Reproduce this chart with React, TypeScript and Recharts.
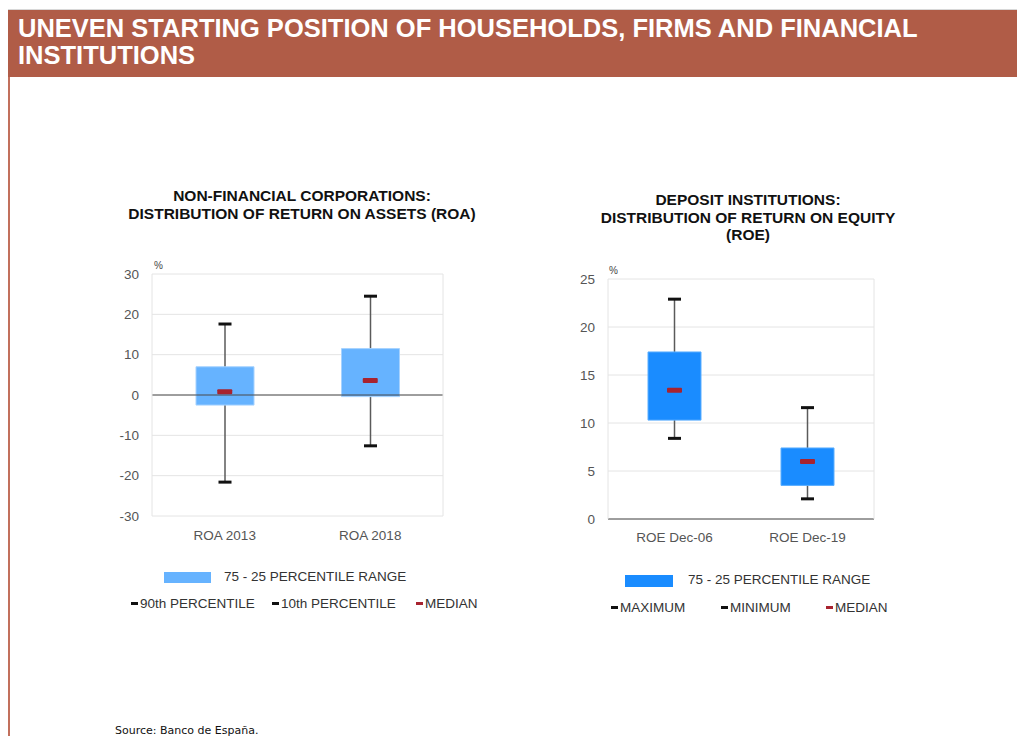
import React from "react";
import {
  Bar,
  ComposedChart,
  CartesianGrid,
  ReferenceLine,
  Scatter,
  XAxis,
  YAxis,
} from "recharts";

// Non-financial corporations, ROA distribution (%)
const ROA_CATEGORIES = ["ROA 2013", "ROA 2018"];
const ROA_P10 = [-21.6, -12.6];
const ROA_P25 = [-2.5, -0.4];
const ROA_MEDIAN = [0.8, 3.6];
const ROA_P75 = [7.0, 11.5];
const ROA_P90 = [17.6, 24.5];
const ROA_TICKS = [-30, -20, -10, 0, 10, 20, 30];

// Deposit institutions, ROE distribution (%)
const ROE_CATEGORIES = ["ROE Dec-06", "ROE Dec-19"];
const ROE_MIN = [8.4, 2.1];
const ROE_P25 = [10.3, 3.5];
const ROE_MEDIAN = [13.4, 6.0];
const ROE_P75 = [17.4, 7.4];
const ROE_MAX = [22.9, 11.6];
const ROE_TICKS = [0, 5, 10, 15, 20, 25];

const SANS = "'Liberation Sans', Arial, Helvetica, sans-serif";
const GRID = "#e4e4e4";
const MEDIAN_RED = "#a8232f";

interface BoxRow {
  name: string;
  low: number;
  q1: number;
  median: number;
  q3: number;
  high: number;
}

function buildRows(
  names: string[],
  low: number[],
  q1: number[],
  median: number[],
  q3: number[],
  high: number[]
): BoxRow[] {
  return names.map((name, i) => ({
    name,
    low: low[i],
    q1: q1[i],
    median: median[i],
    q3: q3[i],
    high: high[i],
  }));
}

const roaRows = buildRows(ROA_CATEGORIES, ROA_P10, ROA_P25, ROA_MEDIAN, ROA_P75, ROA_P90);
const roeRows = buildRows(ROE_CATEGORIES, ROE_MIN, ROE_P25, ROE_MEDIAN, ROE_P75, ROE_MAX);

// vertical whisker with black caps at both ends
const Whisker = (props: any) => {
  const { x, y, width, height } = props;
  const cx = x + width / 2;
  const top = Math.min(y, y + height);
  const bottom = Math.max(y, y + height);
  return (
    <g>
      <line x1={cx} x2={cx} y1={top} y2={bottom} stroke="#5a5a5a" strokeWidth={1.5} />
      <line x1={cx - 6.5} x2={cx + 6.5} y1={top} y2={top} stroke="#111" strokeWidth={3} />
      <line x1={cx - 6.5} x2={cx + 6.5} y1={bottom} y2={bottom} stroke="#111" strokeWidth={3} />
    </g>
  );
};

const MedianMark = (props: any) => {
  const { cx, cy } = props;
  return <rect x={cx - 7.5} y={cy - 2.5} width={15} height={5} rx={1} fill={MEDIAN_RED} />;
};

interface BoxPlotProps {
  rows: BoxRow[];
  ticks: number[];
  width: number;
  height: number;
  margin: { top: number; right: number; bottom: number; left: number };
  yWidth: number;
  barSize: number;
  boxColor: string;
  boxStroke: string;
  xTickMargin: number;
}

function BoxPlot(p: BoxPlotProps) {
  const tickStyle = { fill: "#555", fontSize: 13.5, fontFamily: SANS };
  const domain = [p.ticks[0], p.ticks[p.ticks.length - 1]];
  return (
    <ComposedChart width={p.width} height={p.height} data={p.rows} margin={p.margin}>
      <CartesianGrid vertical={false} stroke={GRID} />
      <XAxis
        dataKey="name"
        tickLine={false}
        axisLine={false}
        tick={tickStyle}
        tickMargin={p.xTickMargin}
        height={30}
      />
      <XAxis xAxisId="w" dataKey="name" hide />
      <YAxis
        domain={domain}
        ticks={p.ticks}
        tickLine={false}
        axisLine={{ stroke: GRID }}
        tick={tickStyle}
        tickMargin={7}
        width={p.yWidth}
        interval={0}
      />
      <YAxis
        yAxisId="r"
        orientation="right"
        domain={domain}
        ticks={p.ticks}
        tick={false}
        tickLine={false}
        axisLine={{ stroke: GRID }}
        width={1}
      />
      <ReferenceLine y={0} stroke="#4a4a4a" strokeWidth={1.2} />
      <Bar
        xAxisId="w"
        dataKey={(d: BoxRow) => [d.low, d.high]}
        barSize={p.barSize}
        shape={<Whisker />}
        isAnimationActive={false}
      />
      <Bar
        dataKey={(d: BoxRow) => [d.q1, d.q3]}
        barSize={p.barSize}
        fill={p.boxColor}
        stroke={p.boxStroke}
        strokeWidth={1}
        isAnimationActive={false}
      />
      <Scatter dataKey="median" shape={<MedianMark />} isAnimationActive={false} />
    </ComposedChart>
  );
}

const abs = (left: number, top: number): React.CSSProperties => ({
  position: "absolute",
  left,
  top,
});

const titleStyle = (cx: number, top: number): React.CSSProperties => ({
  position: "absolute",
  left: cx - 250,
  top,
  width: 500,
  textAlign: "center",
  fontFamily: SANS,
  fontWeight: "bold",
  fontSize: 15.5,
  lineHeight: "17.5px",
  color: "#111",
});

const legendText: React.CSSProperties = {
  position: "absolute",
  fontFamily: SANS,
  fontSize: 13.5,
  color: "#333",
  whiteSpace: "nowrap",
  lineHeight: "16px",
};

function Dash({ left, top, color }: { left: number; top: number; color: string }) {
  return <div style={{ ...abs(left, top), width: 7, height: 3, background: color }} />;
}

export default function App() {
  return (
    <div
      style={{
        position: "absolute",
        left: 0,
        top: 0,
        width: 1017,
        height: 736,
        background: "#fff",
        overflow: "hidden",
      }}
    >
      <div style={{ ...abs(8, 9), width: 1009, height: 1, background: "#d8d8d8" }} />
      <div
        style={{
          ...abs(8, 10),
          width: 1009,
          height: 67,
          background: "#b05c47",
          color: "#fff",
          fontFamily: SANS,
          fontWeight: "bold",
          fontSize: 25.5,
          lineHeight: "27px",
          paddingLeft: 10,
          paddingTop: 5,
          boxSizing: "border-box",
        }}
      >
        UNEVEN STARTING POSITION OF HOUSEHOLDS, FIRMS AND FINANCIAL
        <br />
        INSTITUTIONS
      </div>
      <div style={{ ...abs(8, 77), width: 1.5, height: 659, background: "#c2705c" }} />

      {/* left panel */}
      <div style={titleStyle(302, 187)}>
        NON-FINANCIAL CORPORATIONS:
        <br />
        DISTRIBUTION OF RETURN ON ASSETS (ROA)
      </div>
      <div style={{ ...abs(154, 260), fontFamily: SANS, fontSize: 10, color: "#444" }}>%</div>
      <div style={abs(100, 255)}>
        <BoxPlot
          rows={roaRows}
          ticks={ROA_TICKS}
          width={360}
          height={300}
          margin={{ top: 19, right: 16, bottom: 9, left: 0 }}
          yWidth={52}
          barSize={58}
          boxColor="#66b3ff"
          boxStroke="#a6d2ff"
          xTickMargin={8}
        />
      </div>
      <div style={{ ...abs(164, 572), width: 47, height: 11, background: "#66b3ff" }} />
      <div style={{ ...legendText, left: 224, top: 569 }}>75 - 25 PERCENTILE RANGE</div>
      <Dash left={131} top={602} color="#111" />
      <div style={{ ...legendText, left: 140, top: 596 }}>90th PERCENTILE</div>
      <Dash left={272} top={602} color="#111" />
      <div style={{ ...legendText, left: 281, top: 596 }}>10th PERCENTILE</div>
      <Dash left={416} top={602} color={MEDIAN_RED} />
      <div style={{ ...legendText, left: 425, top: 596 }}>MEDIAN</div>

      {/* right panel */}
      <div style={titleStyle(748, 191)}>
        DEPOSIT INSTITUTIONS:
        <br />
        DISTRIBUTION OF RETURN ON EQUITY
        <br />
        (ROE)
      </div>
      <div style={{ ...abs(609, 265), fontFamily: SANS, fontSize: 10, color: "#444" }}>%</div>
      <div style={abs(560, 260)}>
        <BoxPlot
          rows={roeRows}
          ticks={ROE_TICKS}
          width={330}
          height={300}
          margin={{ top: 19, right: 15, bottom: 11, left: 0 }}
          yWidth={48}
          barSize={53}
          boxColor="#1a8cff"
          boxStroke="#5aaeff"
          xTickMargin={7}
        />
      </div>
      <div style={{ ...abs(625, 575), width: 48, height: 12, background: "#1a8cff" }} />
      <div style={{ ...legendText, left: 688, top: 572 }}>75 - 25 PERCENTILE RANGE</div>
      <Dash left={611} top={606} color="#111" />
      <div style={{ ...legendText, left: 620, top: 600 }}>MAXIMUM</div>
      <Dash left={721} top={606} color="#111" />
      <div style={{ ...legendText, left: 730, top: 600 }}>MINIMUM</div>
      <Dash left={826} top={606} color={MEDIAN_RED} />
      <div style={{ ...legendText, left: 835, top: 600 }}>MEDIAN</div>

      <div
        style={{
          ...abs(115, 724),
          fontFamily: "'DejaVu Sans', Verdana, sans-serif",
          fontSize: 11,
          color: "#111",
        }}
      >
        Source: Banco de España.
      </div>
    </div>
  );
}
